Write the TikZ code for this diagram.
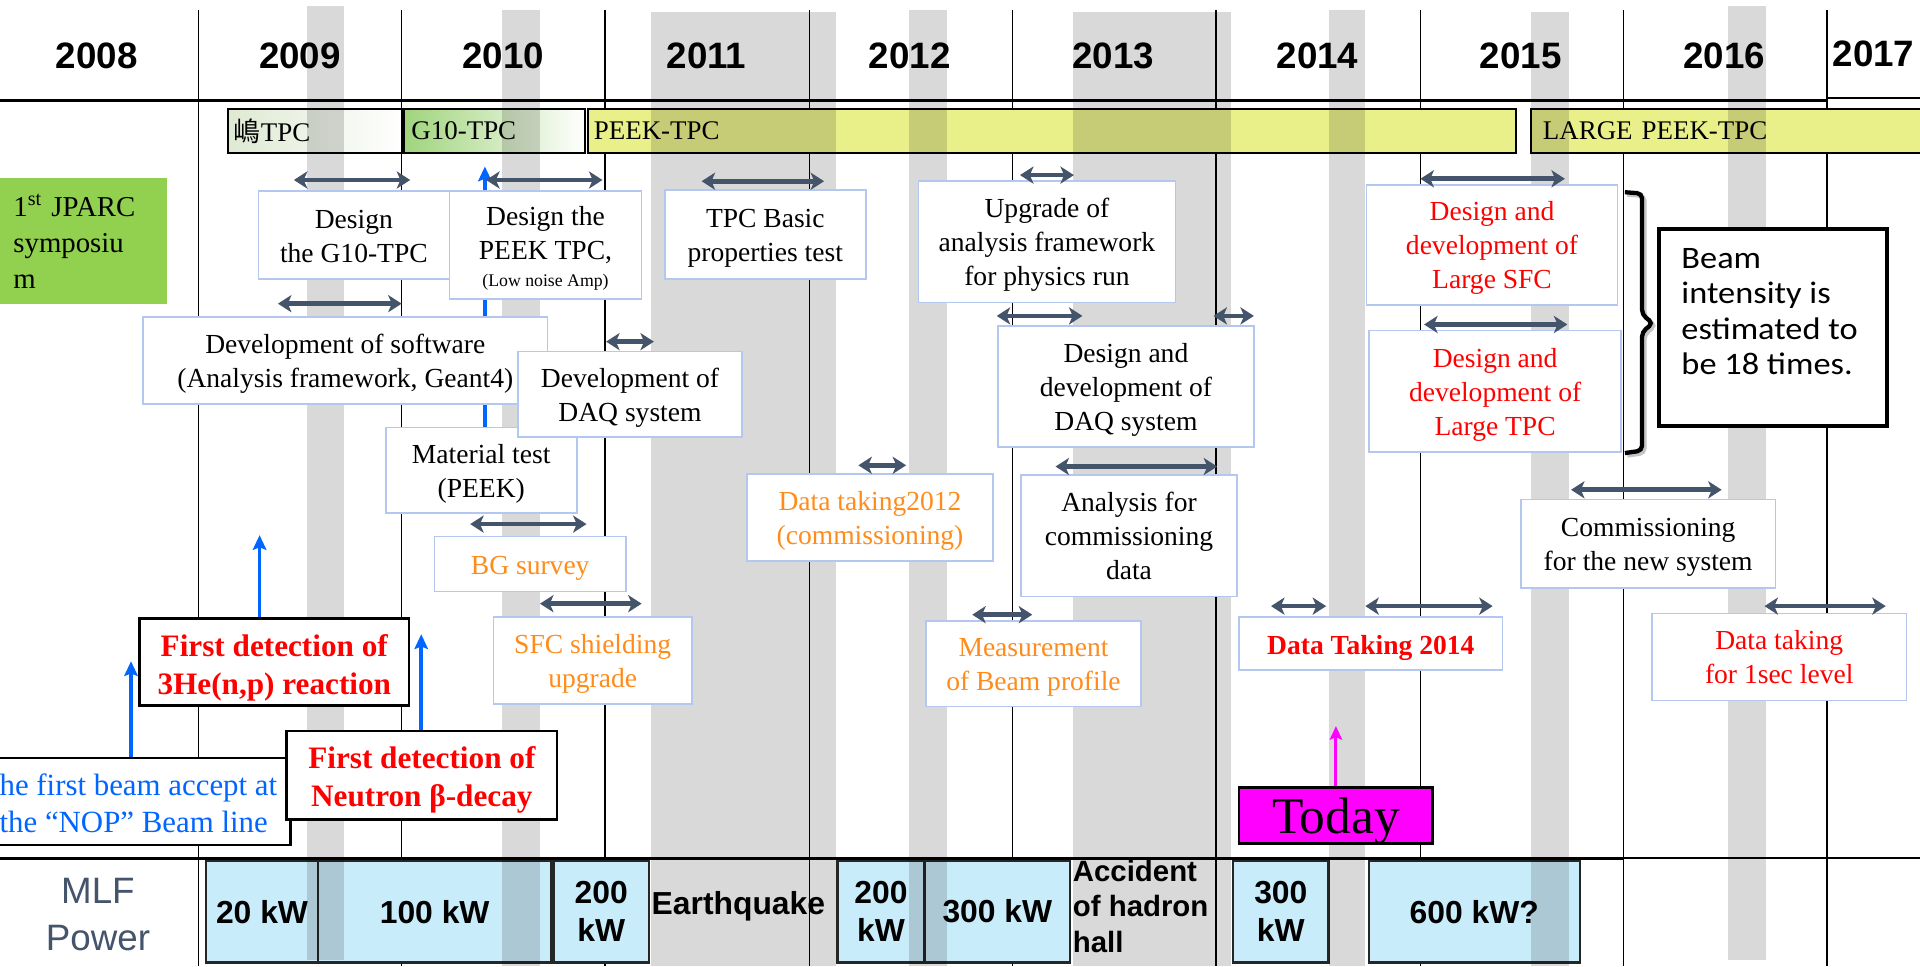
\documentclass[tikz,border=0pt]{standalone}
\usepackage{fontspec}
\setmainfont{Liberation Serif}
\newfontfamily\arialf{Liberation Sans}
\newfontfamily\cjkf{Noto Sans CJK JP}
\newfontfamily\beamff[FakeStretch=1.1]{Carlito}
\usetikzlibrary{arrows.meta}
\pgfdeclarelayer{back}
\pgfdeclarelayer{bars}
\pgfdeclarelayer{bands}
\pgfdeclarelayer{mid}
\pgfsetlayers{back,bars,bands,mid,main}
\definecolor{boxblue}{RGB}{180,199,240}
\definecolor{slate}{RGB}{68,84,106}
\definecolor{bandgrey}{RGB}{217,217,217}
\definecolor{barYellow}{RGB}{233,240,138}
\definecolor{gtengreen}{RGB}{160,212,124}
\definecolor{shimagreen}{RGB}{222,233,210}
\definecolor{mlfblue}{RGB}{201,236,250}
\definecolor{symgreen}{RGB}{146,208,80}
\definecolor{orangetxt}{RGB}{255,140,26}
\definecolor{bluetxt}{RGB}{0,102,255}
\definecolor{todaymag}{RGB}{255,0,255}
\newcommand\fntBox{\fontsize{22.5}{27.8}\selectfont}
\newcommand\fntBar{\fontsize{22}{26}\selectfont}
\newcommand\fntYear{\arialf\bfseries\fontsize{30}{34}\selectfont}
\newcommand\fntMlf{\arialf\bfseries\fontsize{26}{31}\selectfont}
\newcommand\fntAcc{\arialf\bfseries\fontsize{24}{29}\selectfont}
\newcommand\fntMlfP{\arialf\fontsize{30}{38}\selectfont}
\newcommand\fntRed{\bfseries\fontsize{25.5}{31}\selectfont}
\newcommand\fntNop{\fontsize{25.2}{30}\selectfont}
\newcommand\fntDT{\bfseries\fontsize{22.5}{27}\selectfont}
\newcommand\fntToday{\fontsize{42}{46}\selectfont}
\newcommand\fntSym{\fontsize{23.5}{29.5}\selectfont}
\newcommand\fntBeam{\beamff\fontsize{25.5}{28.7}\selectfont}
\newcommand\fntSmall{\fontsize{14.5}{16}\selectfont}
\begin{document}
\begin{tikzpicture}[x=1pt,y=-1pt,
  yearline/.style={line width=1.3pt, draw=black},
  yearlabel/.style={font=\fntYear, inner sep=0pt},
  bar/.style={draw=black, line width=1.8pt, minimum height=36pt, align=left, font=\fntBar, inner ysep=0pt},
  mlfbox/.style={draw=black!85, line width=1.8pt, fill=mlfblue, minimum height=83pt, align=center, font=\fntMlf, inner sep=0pt},
  tbox/.style={draw=boxblue, line width=1.3pt, fill=white, align=center, font=\fntBox, inner sep=1pt},
  oneline/.style={text height=23pt},
  twolines/.style={text height=49pt, text depth=5pt},
  threelines/.style={text height=77pt, text depth=5pt},
  bbox/.style={draw=black, line width=2.2pt, fill=white, align=center, inner sep=1pt, text depth=5pt},
  periodarrow/.style={draw=slate, line width=3.8pt, >={Stealth[length=11pt,width=14pt,inset=3pt]}, <->},
  bluearrow/.style={draw=bluetxt, line width=3pt, >={Stealth[length=12pt,width=11pt,inset=2pt]}, ->},
  todayarrow/.style={draw=todaymag, line width=2.5pt, >={Stealth[length=11pt,width=10pt,inset=2pt]}, ->},
  band/.style={fill=bandgrey}
]
\useasboundingbox (0,0) rectangle (1568,789);

% ---------- background, grid lines ----------
\begin{pgfonlayer}{back}
\fill[white] (0,0) rectangle (1568,789);
\foreach \x in {162,328,494,661,827,993,1160,1326,1492}
  \draw[yearline] (\x,8) -- (\x,789);
\draw[line width=2.5pt] (0,82) -- (1492,82);
\draw[line width=1.2pt] (1492,80) -- (1568,80);
\draw[line width=3pt] (0,701) -- (1326,701);
\draw[line width=1.5pt] (1326,701) -- (1568,701);
\end{pgfonlayer}

% ---------- TPC bars and MLF power boxes ----------
\begin{pgfonlayer}{bars}
\node[bar, minimum width=142pt, text width=132pt, inner xsep=5pt, left color=shimagreen, right color=white] (shima) at (257,107) {{\cjkf 嶋}TPC};
\node[bar, minimum width=148pt, text width=136pt, inner xsep=6pt, left color=gtengreen, right color=white] (gten) at (404,107) {G10-TPC};
\node[bar, minimum width=758pt, text width=748pt, inner xsep=5pt, fill=barYellow] (peek) at (859,107) {PEEK-TPC};
\node[bar, minimum width=322pt, text width=302pt, inner xsep=10pt, fill=barYellow] (largepeek) at (1411,107) {LARGE PEEK-TPC};

\node[mlfbox, minimum width=92pt] (m20) at (214,744.5) {20 kW};
\node[mlfbox, minimum width=190pt] (m100) at (355,744.5) {100 kW};
\node[mlfbox, minimum width=78pt] (m200a) at (491,744.5) {200\\kW};
\node[mlfbox, minimum width=71pt] (m200b) at (719.5,744.5) {200\\kW};
\node[mlfbox, minimum width=119pt] (m300a) at (814.5,744.5) {300 kW};
\node[mlfbox, minimum width=78pt] (m300b) at (1046,744.5) {300\\kW};
\node[mlfbox, minimum width=172pt] (m600) at (1204,744.5) {600 kW?};
\end{pgfonlayer}

% ---------- grey bands ----------
\begin{pgfonlayer}{bands}
\begin{scope}[blend mode=multiply]
\foreach \a/\b/\t/\bt in {251/281/5/784, 410/441/8/789, 532/683/10/789, 742/773/8/789, 876/1005/10/789, 1085/1115/8/789, 1250/1281/10/789, 1411/1442/5/784}
  \fill[band] (\a,\t) rectangle (\b,\bt);
\end{scope}
\end{pgfonlayer}

% ---------- year labels ----------
\foreach \yr/\x in {2008/79,2009/245,2010/411,2011/577,2012/743,2013/909,2014/1076,2015/1242,2016/1408}
  \node[yearlabel] (y\yr) at (\x,46) {\yr};
\node[yearlabel] (y2017) at (1530,44) {2017};

% ---------- symposium ----------
\node[fill=symgreen, minimum width=136pt, minimum height=103pt, text width=114pt, inner xsep=11pt, align=left, font=\fntSym, text height=19pt] (sympo) at (68,196.5) {1\textsuperscript{st} JPARC\\symposiu\\m};

% ---------- task boxes ----------
\node[tbox, twolines, minimum width=156pt, minimum height=72pt] (g10design) at (289,192) {Design\\the G10-TPC};
\node[tbox, minimum width=157pt, minimum height=88pt, text height=73pt, text depth=5pt] (peekdesign) at (445.5,200) {Design the\\PEEK TPC,\\[-5.8pt]{\fntSmall (Low noise Amp)}};
\node[tbox, twolines, minimum width=164pt, minimum height=73pt] (tpcbasic) at (625,191.5) {TPC Basic\\properties test};
\node[tbox, threelines, minimum width=210pt, minimum height=99pt] (upgrade) at (855,197.5) {Upgrade of\\analysis framework\\for physics run};
\node[tbox, threelines, minimum width=205pt, minimum height=98pt, text=red] (largesfc) at (1218.5,200) {Design and\\development of\\Large SFC};
\node[tbox, twolines, minimum width=330pt, minimum height=71pt] (software) at (282,294.5) {Development of software\\(Analysis framework, Geant4)};
\node[tbox, twolines, minimum width=156pt, minimum height=70pt] (material) at (393,384) {Material test\\(PEEK)};
\node[tbox, twolines, minimum width=183pt, minimum height=70pt] (daqone) at (514.5,322) {Development of\\DAQ system};
\node[tbox, threelines, minimum width=209pt, minimum height=99pt] (daqtwo) at (919.5,315.5) {Design and\\development of\\DAQ system};
\node[tbox, threelines, minimum width=206pt, minimum height=99pt, text=red] (largetpc) at (1221,319.5) {Design and\\development of\\Large TPC};
\node[tbox, twolines, minimum width=201pt, minimum height=71pt, text=orangetxt] (dttwelve) at (710.5,422.5) {Data taking2012\\(commissioning)};
\node[tbox, threelines, minimum width=176pt, minimum height=99pt] (analysis) at (922,437.5) {Analysis for\\commissioning\\data};
\node[tbox, oneline, minimum width=156pt, minimum height=45pt, text=orangetxt] (bgsurvey) at (433,460.5) {BG survey};
\node[tbox, twolines, minimum width=162pt, minimum height=71pt, text=orangetxt] (sfcshield) at (484,539.5) {SFC shielding\\upgrade};
\node[tbox, twolines, minimum width=176pt, minimum height=70pt, text=orangetxt] (measurement) at (844,542) {Measurement\\of Beam profile};
\node[tbox, twolines, minimum width=208pt, minimum height=72pt] (commission) at (1346,444) {Commissioning\\for the new system};
\node[tbox, oneline, minimum width=215pt, minimum height=43pt, text=red, font=\fntDT] (dtfourteen) at (1119.5,525.5) {Data Taking 2014};
\node[tbox, twolines, minimum width=208pt, minimum height=71pt, text=red] (onesec) at (1453,536.5) {Data taking\\for 1sec level};

% ---------- milestone boxes ----------
\node[bbox, minimum width=220pt, minimum height=71pt, text=red, font=\fntRed, text height=58pt] (he3) at (224,540.5) {First detection of\\3He(n,p) reaction};
\node[bbox, minimum width=248pt, minimum height=71pt, text=bluetxt, font=\fntNop, text height=56pt, align=left] (nop) at (113,654.5) {he first beam accept at\\the “NOP” Beam line};
\node[bbox, minimum width=221pt, minimum height=72pt, text=red, font=\fntRed, text height=56pt] (neutron) at (344.5,633) {First detection of\\Neutron β-decay};
\node[draw=black, line width=2pt, fill=todaymag, minimum width=158pt, minimum height=46pt, font=\fntToday, text depth=0pt, inner sep=0pt] (today) at (1091,666) {Today};

% ---------- beam intensity box and brace ----------
\node[draw=black, line width=3pt, fill=white, minimum width=186pt, minimum height=161pt] (beam) at (1448,267.5) {};
\node[anchor=north west, inner sep=0pt, align=left, font=\fntBeam] (beamtext) at (1373,203) {Beam\\intensity is\\estimated to\\be 18 times.};
\draw[line width=3.5pt, black!45, opacity=0.5, rounded corners=4pt, shift={(2,2)}] (1327,157) -- (1341,158) -- (1341,257) -- (1350,264) -- (1341,271) -- (1341,368) -- (1327,370);
\draw[line width=3.5pt, black, rounded corners=4pt] (1327,157) -- (1341,158) -- (1341,257) -- (1350,264) -- (1341,271) -- (1341,368) -- (1327,370);

% ---------- MLF labels ----------
\node[font=\fntMlfP, text=slate, align=center] (mlf) at (80,747) {MLF\\Power};
\node[font=\fntMlf, inner sep=0pt] (quake) at (603,740) {Earthquake};
\node[font=\fntAcc, align=left, anchor=west, inner sep=0pt] (accident) at (876,740) {Accident\\of hadron\\hall};

% ---------- blue and magenta arrows ----------
\begin{pgfonlayer}{mid}
\coordinate (he3tip) at (212,437);
\draw[bluearrow] (he3.north -| he3tip) -- (he3tip);
\coordinate (noptip) at (107,540);
\draw[bluearrow] (nop.north -| noptip) -- (noptip);
\coordinate (neutip) at (344,518);
\draw[bluearrow] (neutron.north -| neutip) -- (neutip);
\coordinate (peektip) at (396,136);
\draw[bluearrow] (material.north -| peektip) -- (peektip);
\coordinate (todaytip) at (1091,593);
\draw[todayarrow] (today.north) -- (todaytip);
\end{pgfonlayer}

% ---------- period arrows ----------
\foreach \n/\a/\b/\y in {pa/240/335/147, pb/397/492/147, pc/573/673/148, pd/833/877/143, pe/1160/1278/146, pf/227/328/248, pg/495/534/279, ph/814/884/258, pi/991/1024/258, pj/1163/1280/265, pk/384/479/428, pl/441/524/493, pm/701/740/380, pn/862/994/381, po/1283/1406/400, pp/794/843/502, pq/1038/1083/495, pr/1115/1219/495, ps/1441/1540/495}
{
  \coordinate (\n-a) at (\a,\y);
  \coordinate (\n-b) at (\b,\y);
  \draw[periodarrow] (\n-a) -- (\n-b);
}
\end{tikzpicture}
\end{document}
